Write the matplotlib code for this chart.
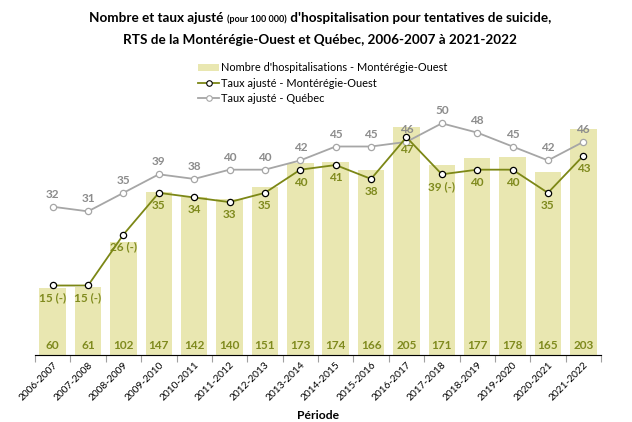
import matplotlib
matplotlib.use("Agg")
import matplotlib.pyplot as plt
from matplotlib.patches import Patch
from matplotlib.lines import Line2D
import numpy as np

plt.rcParams["font.family"] = ["Lato", "DejaVu Sans"]

periods = ["2006-2007", "2007-2008", "2008-2009", "2009-2010", "2010-2011",
           "2011-2012", "2012-2013", "2013-2014", "2014-2015", "2015-2016",
           "2016-2017", "2017-2018", "2018-2019", "2019-2020", "2020-2021",
           "2021-2022"]
nombre = [60, 61, 102, 147, 142, 140, 151, 173, 174, 166, 205, 171, 177, 178, 165, 203]
taux_mo = [15, 15, 26, 35, 34, 33, 35, 40, 41, 38, 47, 39, 40, 40, 35, 43]
taux_mo_labels = ["15 (-)", "15 (-)", "26 (-)", "35", "34", "33", "35", "40", "41",
                  "38", "47", "39 (-)", "40", "40", "35", "43"]
taux_qc = [32, 31, 35, 39, 38, 40, 40, 42, 45, 45, 46, 50, 48, 45, 42, 46]

bar_col = "#E9E7B1"
olive = "#7C8716"
olive_txt = "#7F8A1E"
grey = "#A6A6A6"
grey_txt = "#8C8C8C"

fig = plt.figure(figsize=(6.32, 4.22), dpi=100)
ax = fig.add_axes([35 / 632, 1 - 355 / 422, 566 / 632, 278 / 422])
ax2 = ax.twinx()

x = np.arange(len(periods))

# bars - nombre d'hospitalisations
ax.bar(x, nombre, width=0.75, color=bar_col, zorder=1)
for i, v in enumerate(nombre):
    ax.text(i, 4, str(v), ha="center", va="bottom", fontsize=8.5,
            fontweight="bold", color=olive_txt)
ax.set_ylim(0, 250)
ax.set_xlim(-0.5, len(periods) - 0.5)

# lines - taux
ax2.plot(x, taux_qc, color=grey, lw=1.3, marker="o", ms=4.5,
         mfc="white", mec=grey, mew=0.9, zorder=3)
ax2.plot(x, taux_mo, color=olive, lw=1.3, marker="o", ms=4.5,
         mfc="white", mec="black", mew=0.9, zorder=4)
ax2.set_ylim(0, 60)

for i, v in enumerate(taux_qc):
    ax2.annotate(str(v), (i, v), xytext=(0, 5), textcoords="offset points",
                 ha="center", va="bottom", fontsize=8.5, fontweight="bold",
                 color=grey_txt)
for i, v in enumerate(taux_mo):
    ax2.annotate(taux_mo_labels[i], (i, v), xytext=(0, -5), textcoords="offset points",
                 ha="center", va="top", fontsize=8.5, fontweight="bold",
                 color=olive_txt)

for a in (ax, ax2):
    for s in ["top", "right", "left"]:
        a.spines[s].set_visible(False)
    a.set_yticks([])
ax.spines["bottom"].set_color("#A0A0A0")
ax.spines["bottom"].set_linewidth(0.8)

ax.set_xticks(x)
ax.set_xticklabels(periods, rotation=45, ha="right", rotation_mode="anchor",
                   fontsize=7.3)
ax.tick_params(axis="x", which="major", length=0, pad=4)
ax.set_xticks(np.arange(-0.5, len(periods)), minor=True)
ax.tick_params(axis="x", which="minor", length=5, color="#A0A0A0", width=0.8)
ax.set_xlabel("Période", fontsize=8.7, fontweight="bold", labelpad=5)

# legend
handles = [
    Patch(facecolor=bar_col, edgecolor="none"),
    Line2D([], [], color=olive, lw=1.3, marker="o", ms=4, mfc="white", mec="black", mew=0.8),
    Line2D([], [], color=grey, lw=1.3, marker="o", ms=4, mfc="white", mec=grey, mew=0.8),
]
labels = ["Nombre d'hospitalisations - Montérégie-Ouest",
          "Taux ajusté - Montérégie-Ouest",
          "Taux ajusté - Québec"]
fig.legend(handles, labels, loc="upper left", bbox_to_anchor=(193 / 632, 1 - 57 / 422),
           frameon=False, fontsize=7.9, handlelength=1.9, handletextpad=0.15,
           labelspacing=0.4, borderpad=0)

# title with smaller "(pour 100 000)"
parts = [("Nombre et taux ajusté ", 9.7), ("(pour 100 000)", 6.5), (" d'hospitalisation pour tentatives de suicide,", 9.7)]
renderer = fig.canvas.get_renderer()
texts = [fig.text(0, 1 - 22 / 422, s, fontsize=fs, fontweight="bold", ha="left", va="baseline")
         for s, fs in parts]
widths = [t.get_window_extent(renderer).width for t in texts]
start = 320 - sum(widths) / 2
for t, w in zip(texts, widths):
    t.set_x(start / 632)
    start += w
fig.text(320 / 632, 1 - 44 / 422, "RTS de la Montérégie-Ouest et Québec, 2006-2007 à 2021-2022",
         fontsize=9.7, fontweight="bold", ha="center", va="baseline")

fig.savefig("out.png", dpi=100)
